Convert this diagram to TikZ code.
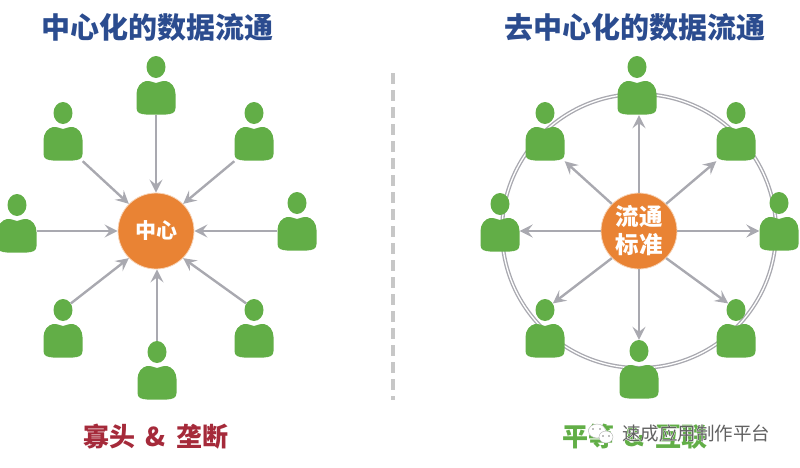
\documentclass[tikz,border=0pt]{standalone}
\usepackage{fontspec}
\setmainfont{Noto Sans CJK SC}
\newfontfamily\halofont[FakeBold=3]{Noto Sans CJK SC}
\usetikzlibrary{arrows.meta,shapes.geometric}
\definecolor{peoplegreen}{HTML}{62AE47}
\definecolor{titleblue}{HTML}{2B4C8F}
\definecolor{huborange}{HTML}{E98334}
\definecolor{arrowgray}{HTML}{A9A9B0}
\definecolor{sloganred}{HTML}{A52A3A}
\tikzset{
 head/.style={ellipse,fill=peoplegreen,minimum width=19pt,minimum height=22pt,inner sep=0pt},
 body/.style={rectangle,minimum width=39pt,minimum height=34pt,inner sep=0pt},
 hub/.style={circle,fill=huborange,draw=huborange!35,line width=0.8pt,minimum size=76pt,inner sep=0pt,text=white,align=center,font=\fontsize{21}{25}\selectfont\bfseries},
 flow/.style={draw=arrowgray,line width=2.4pt,-{Stealth[length=13pt,width=13pt,inset=5pt]}},
 title/.style={inner sep=0pt,text=titleblue,font=\fontsize{29}{30}\selectfont\bfseries},
 slogan/.style={inner sep=0pt,font=\fontsize{26}{27}\selectfont\bfseries}
}
\newcommand{\sloganamp}{\hspace{10pt}\&\hspace{10pt}}
\begin{document}
\begin{tikzpicture}[x=1pt,y=-1pt]
 \useasboundingbox (0,0) rectangle (800,467);
 \node[title] (titleL) at (157,27) {中心化的数据流通};
 \node[title] (titleR) at (635,27) {去中心化的数据流通};
 % divider
 \coordinate (divtop) at (393,73);
 \coordinate (divbot) at (393,400);
 \draw[draw=black!22,line width=4.5pt,dash pattern=on 11pt off 6pt] (divtop)--(divbot);
 % ring behind the people on the right
 \node[circle,minimum size=274pt,inner sep=0pt,draw=arrowgray,line width=4pt] (ringo) at (639,231) {};
 \node[circle,minimum size=274pt,inner sep=0pt,draw=white,line width=1.3pt] (ringi) at (639,231) {};
 % people
 \foreach \nm/\x/\y in {lt/156/67,lul/63/113,lur/254/113,ll/17/205,lr/297/203,ldl/63/310,ldr/254/310,lb/157/352,
  rt/637/67,rul/545/113,rur/736/113,rl/500/204,rr/779/203,rdl/545/310,rdr/736/310,rb/639/351}{
  \node[head] (h\nm) at (\x,\y) {};
  \node[body] (b\nm) at (\x,\y+31) {};
  \fill[peoplegreen,shift={(\x,\y)}] (0,16) .. controls (3,15.5) and (6,13.5) .. (10,14)
   .. controls (15,15) and (19.5,20) .. (19.5,27) -- (19.5,41) .. controls (19.5,46) and (16,47) .. (10,47.5)
   -- (-10,47.5) .. controls (-16,47) and (-19.5,46) .. (-19.5,41) -- (-19.5,27)
   .. controls (-19.5,20) and (-15,15) .. (-10,14) .. controls (-6,13.5) and (-3,15.5) .. (0,16) -- cycle;
 }
 \node[hub] (hubL) at (156,231) {中心};
 \node[hub,font=\fontsize{23.5}{28}\selectfont\bfseries] (hubR) at (639,231) {流通\\标准};
 % flows into the centre
 \draw[flow] (blt.south)--(blt.south |- hubL.north);
 \draw[flow] (blul.south east)--(hubL.135);
 \draw[flow] (blur.south west)--(hubL.45);
 \draw[flow] (bll.east |- hubL.west)--(hubL.west);
 \draw[flow] (blr.west |- hubL.east)--(hubL.east);
 \draw[flow] (hldl.40)--(hubL.225);
 \draw[flow] (hldr.140)--(hubL.315);
 \draw[flow] (hlb.north)--(hlb.north |- hubL.south);
 % flows out of the standard
 \draw[flow] (hubR.north)--(brt.south -| hubR.north);
 \draw[flow] (hubR.135)--(brul.south east);
 \draw[flow] (hubR.45)--(brur.south west);
 \draw[flow] (hubR.west)--(brl.east |- hubR.west);
 \draw[flow] (hubR.east)--(brr.west |- hubR.east);
 \draw[flow] (hubR.225)--(hrdl.40);
 \draw[flow] (hubR.315)--(hrdr.140);
 \draw[flow] (hubR.south)--(hrb.north);
 % slogans
 \node[slogan,text=sloganred] (sloganL) at (156,437) {寡头\sloganamp 垄断};
 \node[slogan,text=peoplegreen] (sloganR) at (635,437) {平等\sloganamp 互联};
 % watermark
 \node[inner sep=0pt,text=white,font=\fontsize{18.5}{20}\selectfont\halofont] (markback) at (696,433) {速成应用制作平台};
 \node[inner sep=0pt,text=black!62,font=\fontsize{18.5}{20}\selectfont] (mark) at (696,433) {速成应用制作平台};
 \node[ellipse,fill=white,draw=black!30,line width=0.4pt,minimum width=17pt,minimum height=14pt,inner sep=0pt] (bubbleA) at (597,431) {};
 \node[ellipse,fill=white,draw=black!30,line width=0.4pt,minimum width=14pt,minimum height=12pt,inner sep=0pt] (bubbleB) at (606,437) {};
 \foreach \x/\y in {593/429,600/429,603/436,609/436}{
  \fill[black!50] (\x,\y) circle (0.9pt);
 }
\end{tikzpicture}
\end{document}
